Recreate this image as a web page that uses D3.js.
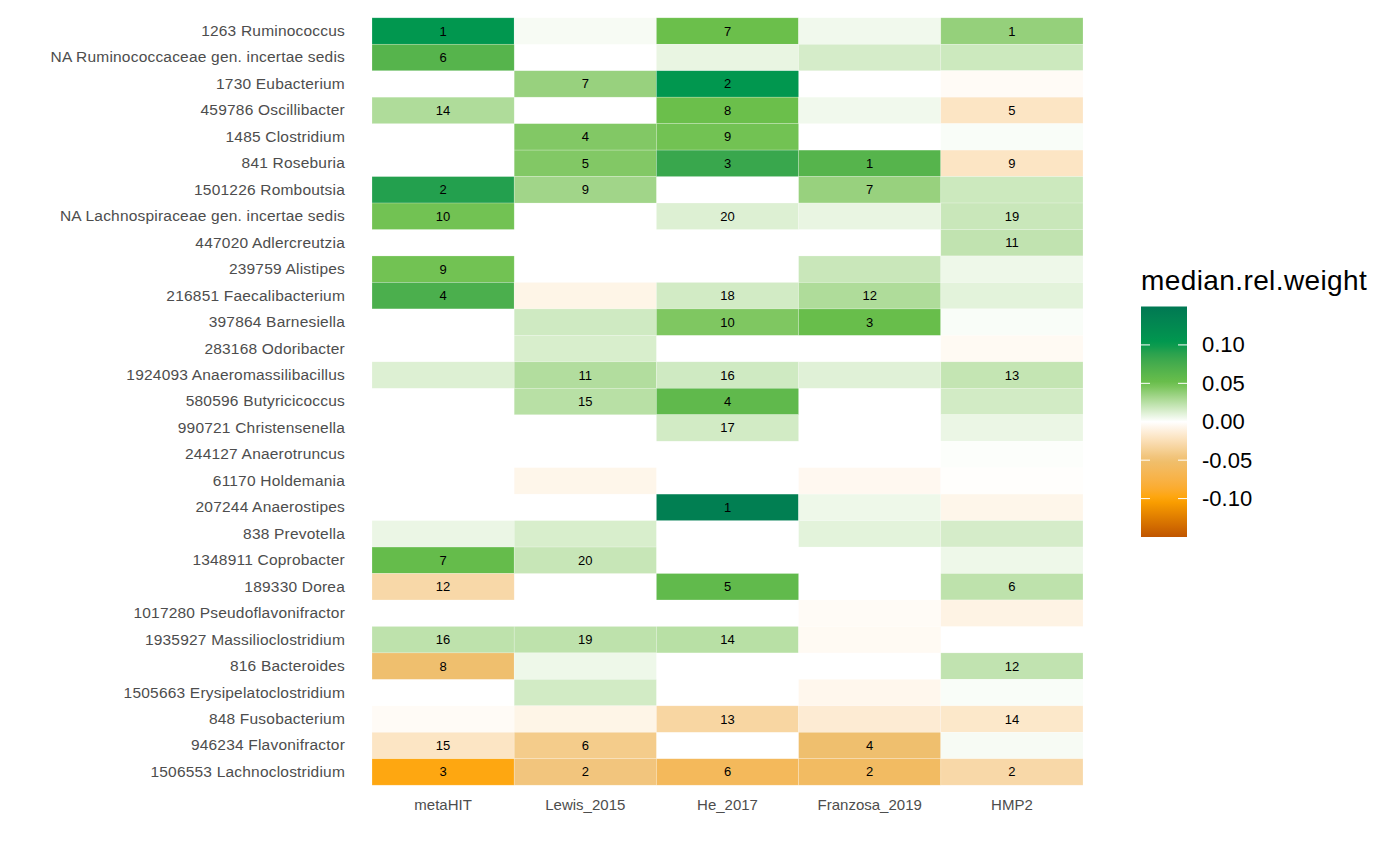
<!DOCTYPE html>
<html>
<head>
<meta charset="utf-8">
<script src="https://cdn.jsdelivr.net/npm/d3@7"></script>
<style>
  body { margin: 0; background: #fff; }
  text { font-family: "Liberation Sans", Arial, sans-serif; }
</style>
</head>
<body>
<div id="chart"></div>
<script>
// taxa, top to bottom
const taxa = [
  "1263 Ruminococcus", "NA Ruminococcaceae gen. incertae sedis", "1730 Eubacterium",
  "459786 Oscillibacter", "1485 Clostridium", "841 Roseburia", "1501226 Romboutsia",
  "NA Lachnospiraceae gen. incertae sedis", "447020 Adlercreutzia", "239759 Alistipes",
  "216851 Faecalibacterium", "397864 Barnesiella", "283168 Odoribacter",
  "1924093 Anaeromassilibacillus", "580596 Butyricicoccus", "990721 Christensenella",
  "244127 Anaerotruncus", "61170 Holdemania", "207244 Anaerostipes", "838 Prevotella",
  "1348911 Coprobacter", "189330 Dorea", "1017280 Pseudoflavonifractor",
  "1935927 Massilioclostridium", "816 Bacteroides", "1505663 Erysipelatoclostridium",
  "848 Fusobacterium", "946234 Flavonifractor", "1506553 Lachnoclostridium"
];
const studies = ["metaHIT", "Lewis_2015", "He_2017", "Franzosa_2019", "HMP2"];

// median.rel.weight per study (same order as taxa), null = missing
const metaHIT = [0.105, 0.065, null, 0.028, null, null, 0.092, 0.048, null, 0.048,
  0.072, null, null, 0.012, null, null, null, null, null, 0.007,
  0.054, -0.03, null, 0.023, -0.05, null, -0.003, -0.02, -0.097];
const lewis2015 = [0.003, null, 0.036, null, 0.043, 0.043, 0.033, null, null, null,
  -0.008, 0.017, 0.014, 0.027, 0.025, null, null, -0.007, null, 0.014,
  0.02, null, null, 0.023, 0.006, 0.016, -0.008, -0.04, -0.045];
const he2017 = [0.05, 0.008, 0.105, 0.05, 0.048, 0.082, null, 0.012, null, null,
  0.016, 0.044, null, 0.017, 0.058, 0.016, null, null, 0.14, null,
  null, 0.057, null, 0.025, null, null, -0.032, null, -0.062];
const franzosa2019 = [0.005, 0.015, null, 0.005, null, 0.065, 0.036, 0.008, null, 0.019,
  0.028, 0.052, null, 0.011, null, null, null, -0.005, 0.006, 0.01,
  null, null, -0.003, -0.004, null, -0.006, -0.015, -0.05, -0.058];
const hmp2 = [0.037, 0.018, -0.003, -0.02, 0.002, -0.02, 0.018, 0.019, 0.022, 0.006,
  0.01, 0.002, -0.004, 0.021, 0.016, 0.007, 0.001, -0.001, -0.007, 0.015,
  0.006, 0.023, -0.009, null, 0.022, 0.002, -0.018, 0.003, -0.03];

// rank labels shown in cells
const rankMetaHIT = [1, 6, null, 14, null, null, 2, 10, null, 9, 4, null, null, null, null,
  null, null, null, null, null, 7, 12, null, 16, 8, null, null, 15, 3];
const rankLewis = [null, null, 7, null, 4, 5, 9, null, null, null, null, null, null, 11, 15,
  null, null, null, null, null, 20, null, null, 19, null, null, null, 6, 2];
const rankHe = [7, null, 2, 8, 9, 3, null, 20, null, null, 18, 10, null, 16, 4,
  17, null, null, 1, null, null, 5, null, 14, null, null, 13, null, 6];
const rankFranzosa = [null, null, null, null, null, 1, 7, null, null, null, 12, 3, null, null, null,
  null, null, null, null, null, null, null, null, null, null, null, null, 4, 2];
const rankHMP2 = [1, null, null, 5, null, 9, null, 19, 11, null, null, null, null, 13, null,
  null, null, null, null, null, null, 6, null, null, 12, null, 14, null, 2];

const legendTicks = [0.10, 0.05, 0.00, -0.05, -0.10];

const valueCols = [metaHIT, lewis2015, he2017, franzosa2019, hmp2];
const rankCols = [rankMetaHIT, rankLewis, rankHe, rankFranzosa, rankHMP2];

const cells = [];
studies.forEach((s, j) => {
  taxa.forEach((t, i) => {
    if (valueCols[j][i] !== null) {
      cells.push({ study: s, taxon: t, value: valueCols[j][i], rank: rankCols[j][i] });
    }
  });
});

const width = 1400, height = 865;
const svg = d3.select("#chart").append("svg")
  .attr("width", width).attr("height", height);

const x = d3.scaleBand().domain(studies).range([372, 1083]);
const y = d3.scaleBand().domain(taxa).range([17.8, 785.2]);

const color = d3.scaleLinear()
  .domain([-0.15, -0.10, -0.05, 0, 0.05, 0.10, 0.15])
  .range(["#c05500", "#ffa500", "#efbf6e", "#ffffff", "#6bbf4b", "#009a4e", "#007853"])
  .interpolate(d3.interpolateLab)
  .clamp(true);

svg.append("g").selectAll("rect")
  .data(cells)
  .enter().append("rect")
  .attr("x", d => x(d.study))
  .attr("y", d => y(d.taxon))
  .attr("width", x.bandwidth())
  .attr("height", y.bandwidth())
  .attr("fill", d => color(d.value))
  .attr("stroke", "white")
  .attr("stroke-opacity", 0.35)
  .attr("stroke-width", 0.6);

svg.append("g").selectAll("text")
  .data(cells.filter(d => d.rank !== null))
  .enter().append("text")
  .attr("x", d => x(d.study) + x.bandwidth() / 2)
  .attr("y", d => y(d.taxon) + y.bandwidth() / 2)
  .attr("text-anchor", "middle")
  .attr("dominant-baseline", "central")
  .style("font-size", "13px")
  .attr("fill", "#000")
  .text(d => d.rank);

// axes
const yAxis = svg.append("g")
  .attr("transform", "translate(372,0)")
  .call(d3.axisLeft(y).tickSize(0).tickPadding(27));
yAxis.select(".domain").remove();
yAxis.selectAll("text")
  .style("font-size", "15.5px")
  .style("letter-spacing", "0.2px")
  .style("font-family", "Liberation Sans, Arial, sans-serif")
  .attr("fill", "#4d4d4d");

const xAxis = svg.append("g")
  .attr("transform", "translate(0,785.2)")
  .call(d3.axisBottom(x).tickSize(0).tickPadding(14));
xAxis.select(".domain").remove();
xAxis.selectAll("text")
  .style("font-size", "15px")
  .style("font-family", "Liberation Sans, Arial, sans-serif")
  .attr("fill", "#4d4d4d");

// legend
const lg = svg.append("g");
const lx = 1141, lw = 46;
const ly = d3.scaleLinear().domain([0.15, -0.15]).range([306.5, 537]);

const defs = svg.append("defs");
const grad = defs.append("linearGradient")
  .attr("id", "lgrad").attr("x1", 0).attr("y1", 0).attr("x2", 0).attr("y2", 1);
d3.range(0, 41).forEach(k => {
  const v = 0.15 - k * 0.3 / 40;
  grad.append("stop").attr("offset", (k / 40 * 100) + "%").attr("stop-color", color(v));
});

lg.append("text")
  .attr("x", lx).attr("y", 290)
  .style("font-size", "28px")
  .style("letter-spacing", "0.4px")
  .attr("fill", "#000")
  .text("median.rel.weight");

lg.append("rect")
  .attr("x", lx).attr("y", ly(0.15))
  .attr("width", lw).attr("height", ly(-0.15) - ly(0.15))
  .attr("fill", "url(#lgrad)");

lg.selectAll("line.tl")
  .data(legendTicks)
  .enter().append("line")
  .attr("x1", lx).attr("x2", lx + 9)
  .attr("y1", d => ly(d)).attr("y2", d => ly(d))
  .attr("stroke", "white").attr("stroke-width", 1);
lg.selectAll("line.tr")
  .data(legendTicks)
  .enter().append("line")
  .attr("x1", lx + lw - 9).attr("x2", lx + lw)
  .attr("y1", d => ly(d)).attr("y2", d => ly(d))
  .attr("stroke", "white").attr("stroke-width", 1);

lg.selectAll("text.tick")
  .data(legendTicks)
  .enter().append("text")
  .attr("x", 1202)
  .attr("y", d => ly(d))
  .attr("dominant-baseline", "central")
  .style("font-size", "22px")
  .attr("fill", "#000")
  .text(d => d3.format(".2f")(d).replace("−", "-"));
</script>
</body>
</html>
